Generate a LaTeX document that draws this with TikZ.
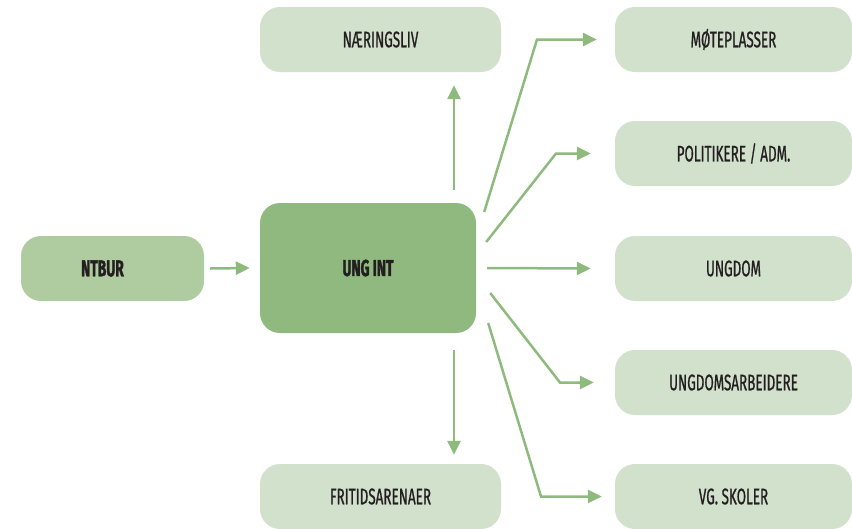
\documentclass[tikz,border=0pt]{standalone}
\usepackage{fontspec}
\setmainfont{Fira Sans}
\newfontfamily\cond[FakeStretch=0.6,FakeBold=0.8]{Fira Sans}
\newfontfamily\condb[FakeStretch=0.6,FakeBold=1.5]{Fira Sans}
\usetikzlibrary{arrows.meta}
\definecolor{arrowc}{HTML}{8FBA7E}
\definecolor{lightbox}{HTML}{D2E1CC}
\definecolor{midbox}{HTML}{AFCBA0}
\definecolor{darkbox}{HTML}{8FB97F}
\definecolor{txt}{HTML}{231F20}
\tikzset{
  box/.style={rounded corners=20pt, inner sep=0pt, minimum width=241pt, minimum height=65pt,
    fill=lightbox, text=txt, font=\cond\fontsize{22.5}{26}\selectfont},
  rbox/.style={box, minimum width=237pt},
  bold/.style={font=\condb\bfseries\fontsize{23}{26}\selectfont},
  arr/.style={draw=arrowc, line width=2.5pt, -{Triangle[length=14pt,width=13pt]}}
}
\begin{document}
\begin{tikzpicture}[x=1pt,y=-1pt]
\useasboundingbox (0,0) rectangle (852,528);
\node[box, fill=midbox, minimum width=183pt, bold] (ntbur) at (112.5,268.5) {\hspace*{-20pt}NTBUR};
\node[box, fill=darkbox, minimum width=216pt, minimum height=130pt, bold] (ungint) at (368,268) {UNG INT};
\node[box] (nar) at (380.5,39.5) {NÆRINGSLIV};
\node[box] (fri) at (380.5,496.5) {FRITIDSARENAER};
\node[rbox] (mot) at (733.5,39.5) {MØTEPLASSER};
\node[rbox] (pol) at (733.5,153.5) {POLITIKERE / ADM.};
\node[rbox] (ung) at (733.5,268.5) {UNGDOM};
\node[rbox] (uarb) at (733.5,382.5) {UNGDOMSARBEIDERE};
\node[rbox] (vgs) at (733.5,496.5) {VG. SKOLER};

\draw[arr] ([shift={(6,0)}]ntbur.east) -- ([shift={(-10,0)}]ungint.west);
\draw[arr] ([shift={(86,-13)}]ungint.north) -- ([shift={(73.5,13)}]nar.south);
\draw[arr] ([shift={(86,17)}]ungint.south) -- ([shift={(73.5,-9)}]fri.north);
\draw[arr] ([shift={(8,-56)}]ungint.east) -- (537,0 |- mot.west) -- ([shift={(-18,0)}]mot.west);
\draw[arr] ([shift={(10,-26)}]ungint.east) -- (556,0 |- pol.west) -- ([shift={(-24,0)}]pol.west);
\draw[arr] ([shift={(11,0)}]ungint.east) -- ([shift={(-24,0)}]ung.west);
\draw[arr] ([shift={(14,25)}]ungint.east) -- (560,0 |- uarb.west) -- ([shift={(-21,0)}]uarb.west);
\draw[arr] ([shift={(12,55)}]ungint.east) -- (541,0 |- vgs.west) -- ([shift={(-13,0)}]vgs.west);
\end{tikzpicture}
\end{document}
